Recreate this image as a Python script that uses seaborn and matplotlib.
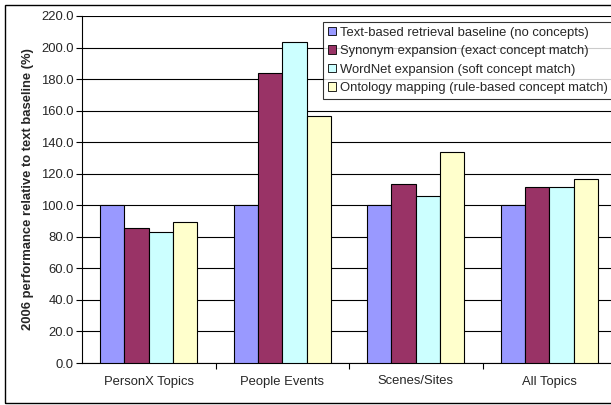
import matplotlib
matplotlib.use("Agg")
import matplotlib.pyplot as plt
import matplotlib.patches as mpatches
import numpy as np
import pandas as pd
import seaborn as sns

categories = ["PersonX Topics", "People Events", "Scenes/Sites", "All Topics"]
series_names = [
    "Text-based retrieval baseline (no concepts)",
    "Synonym expansion (exact concept match)",
    "WordNet expansion (soft concept match)",
    "Ontology mapping (rule-based concept match)",
]
baseline = [100.0, 100.0, 100.0, 100.0]
synonym = [85.5, 184.0, 113.2, 111.5]
wordnet = [83.0, 203.8, 105.9, 111.6]
ontology = [89.3, 156.5, 134.0, 116.8]
y_ticks = [0, 20, 40, 60, 80, 100, 120, 140, 160, 180, 200, 220]
colors = ["#9999FF", "#993366", "#CCFFFF", "#FFFFCC"]

df = pd.DataFrame({
    "category": categories * 4,
    "series": sum([[s] * 4 for s in series_names], []),
    "value": baseline + synonym + wordnet + ontology,
})

sns.set_style("white")
plt.rcParams["font.family"] = ["Liberation Sans", "DejaVu Sans"]
FS = 9.4

fig = plt.figure(figsize=(6.11, 4.05), dpi=100)
# outer chart border
fig.patches.append(mpatches.Rectangle((5 / 611, 2 / 405), 1.2, 398 / 405,
                                      transform=fig.transFigure, fill=False,
                                      edgecolor="black", linewidth=1.0))
ax = fig.add_axes([82 / 611, 42 / 405, 534 / 611, 347 / 405])

sns.barplot(data=df, x="category", y="value", hue="series", order=categories,
            hue_order=series_names, palette=colors, width=0.73,
            edgecolor="black", linewidth=0.8, saturation=1, ax=ax, zorder=3)

ax.set_ylim(0, 220)
ax.set_xlim(-0.5, 3.5)
ax.set_yticks(y_ticks)
ax.set_yticklabels([f"{v:.1f}" for v in y_ticks], fontsize=FS)
ax.yaxis.grid(True, color="black", linewidth=0.8, zorder=0)
ax.set_axisbelow(True)
ax.tick_params(axis="y", direction="out", length=4, width=0.8, color="black", pad=2, left=True)
ax.set_xticks(range(len(categories)))
ax.set_xticklabels(categories, fontsize=FS)
ax.tick_params(axis="x", which="major", length=0, pad=9)
ax.set_xticks([0.5, 1.5, 2.5], minor=True)
ax.tick_params(axis="x", which="minor", direction="out", length=4, width=0.8, color="black", bottom=True)
ax.set_xlabel("")
ax.set_ylabel("2006 performance relative to text baseline (%)", fontsize=FS,
              fontweight="bold", labelpad=5)
for side in ["top", "right"]:
    ax.spines[side].set_visible(False)
for side in ["left", "bottom"]:
    ax.spines[side].set_color("black")
    ax.spines[side].set_linewidth(0.8)

leg = ax.legend(title=None, loc="upper left", bbox_to_anchor=(323 / 611, 383 / 405),
                bbox_transform=fig.transFigure, fontsize=FS, frameon=True,
                fancybox=False, edgecolor="black", handlelength=0.65, handleheight=0.65,
                handletextpad=0.3, labelspacing=0.5, borderpad=0.35, borderaxespad=0)
leg.get_frame().set_linewidth(0.8)
for h in leg.legend_handles:
    h.set_edgecolor("black")
    h.set_linewidth(0.6)

fig.savefig("out.png", dpi=100)
